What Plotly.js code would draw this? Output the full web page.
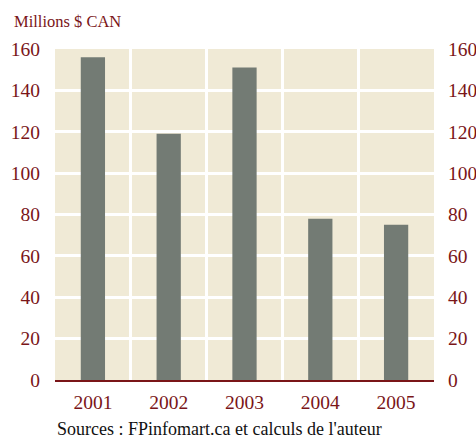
<!DOCTYPE html>
<html>
<head>
<meta charset="utf-8">
<script src="https://cdn.plot.ly/plotly-3.0.1.min.js"></script>
<style>html,body{margin:0;padding:0;background:#fff;}#chart{width:476px;height:439px;}</style>
</head>
<body>
<div id="chart"></div>
<script>
const years = ["2001", "2002", "2003", "2004", "2005"];
const values = [156, 119, 151, 78, 75];
const yTicks = [0, 20, 40, 60, 80, 100, 120, 140, 160];
const unitLabel = "Millions $ CAN";
const sourceLabel = "Sources : FPinfomart.ca et calculs de l'auteur";

const red = "#7A1518";
const serif = "Liberation Serif, Times New Roman, serif";

const traces = [
  {type: "bar", x: years, y: values, marker: {color: "#737B74"}, hoverinfo: "none"},
  {type: "scatter", x: years, y: values, yaxis: "y2", mode: "none", showlegend: false, hoverinfo: "none"}
];

const yCommon = {
  range: [0, 160], tickvals: yTicks, fixedrange: true,
  ticks: "outside", ticklen: 10, tickcolor: "rgba(0,0,0,0)",
  tickfont: {family: serif, size: 19.5, color: red},
  zeroline: false, showline: false
};

const layout = {
  width: 476, height: 439,
  margin: {l: 55, r: 42, t: 49, b: 59},
  paper_bgcolor: "#ffffff",
  plot_bgcolor: "#F0EAD6",
  showlegend: false,
  bargap: 0.68,
  xaxis: {
    type: "category", tickson: "boundaries",
    showgrid: true, gridcolor: "#ffffff", gridwidth: 3,
    ticks: "outside", ticklen: 12, tickcolor: "rgba(0,0,0,0)",
    ticklabelstandoff: 4,
    tickfont: {family: serif, size: 19.5, color: red},
    showline: true, linecolor: red, linewidth: 2,
    fixedrange: true
  },
  yaxis: Object.assign({}, yCommon, {showgrid: true, gridcolor: "#ffffff", gridwidth: 3}),
  yaxis2: Object.assign({}, yCommon, {overlaying: "y", side: "right", showgrid: false, ticklen: 9}),
  annotations: [
    {text: unitLabel, xref: "paper", yref: "paper", x: (12 - 55) / 379, y: (380 - 21) / 331,
     xanchor: "left", yanchor: "middle",
     showarrow: false, font: {family: serif, size: 16.5, color: red}},
    {text: sourceLabel, xref: "paper", yref: "paper", x: 0, y: (380 - 428.5) / 331,
     xanchor: "left", yanchor: "middle",
     showarrow: false, font: {family: serif, size: 18, color: "#111111"}}
  ]
};

Plotly.newPlot("chart", traces, layout, {displayModeBar: false, staticPlot: true});
</script>
</body>
</html>
